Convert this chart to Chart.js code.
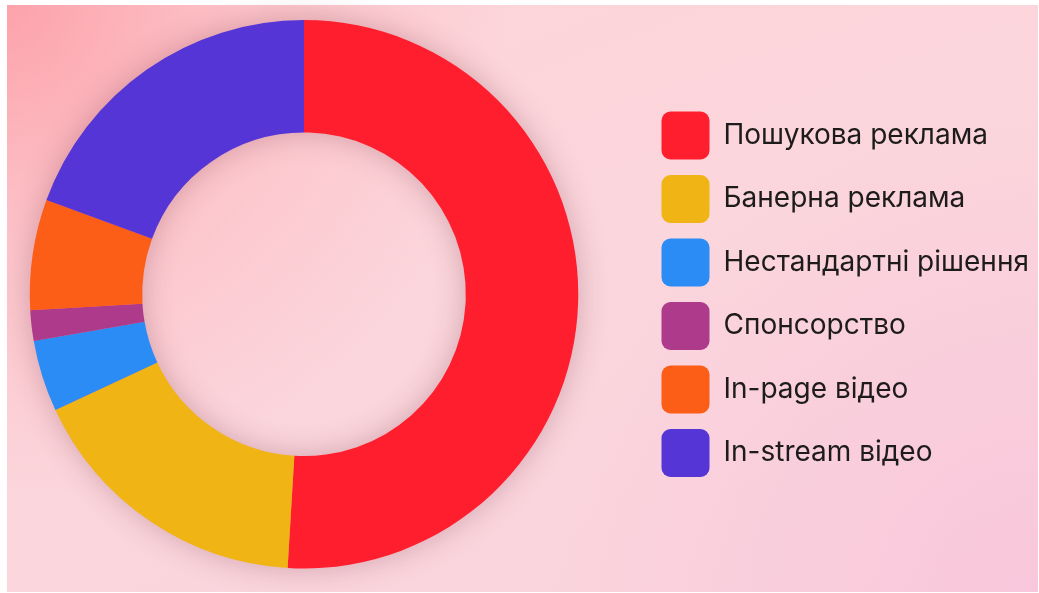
<!DOCTYPE html>
<html>
<head>
<meta charset="utf-8">
<script src="https://cdn.jsdelivr.net/npm/chart.js@4.4.1/dist/chart.umd.min.js"></script>
<style>
  html, body { margin: 0; padding: 0; background: #ffffff; overflow: hidden; }
  #wrap {
    position: absolute; left: 0; top: 0; width: 1039px; height: 593px; overflow: hidden;
  }
  #bg {
    position: absolute; left: 7px; top: 5px; width: 1031px; height: 587px;
    background:
      radial-gradient(circle at 0% 0%, rgba(253, 150, 160, 0.8) 0%, rgba(253, 170, 178, 0.4) 20%, rgba(253, 200, 206, 0) 42%),
      radial-gradient(circle at 100% 100%, rgba(248, 196, 218, 0.8) 0%, rgba(248, 200, 220, 0) 42%),
      linear-gradient(160deg, #fdd4d8 0%, #fbd6dc 50%, #fad3de 100%);
  }
  /* canvas shifted left so the ring centre and the legend sit where they do in the source */
  canvas { position: absolute; left: -38px; top: 0; }
</style>
</head>
<body>
<div id="wrap">
  <div id="bg"></div>
  <canvas id="donut" width="1078" height="593"></canvas>
</div>
<script>
// chart values (share of budget)
const categories = [
  "Пошукова реклама",
  "Банерна реклама",
  "Нестандартні рішення",
  "Спонсорство",
  "In-page відео",
  "In-stream відео"
];
const shares = [50.9, 17.1, 4.2, 1.8, 6.5, 19.4];
const colors = ["#ff1e2e", "#f0b415", "#2b8cf6", "#ad3a8a", "#fc5d17", "#5535d6"];

const LEGEND_WIDTH = 394;

// give the legend a fixed width so the ring area ends where it should
const fixedLegend = {
  id: "fixedLegend",
  beforeLayout(chart) {
    const lg = chart.legend;
    if (!lg || lg._fixedFit) return;
    const fit = lg.fit;
    lg.fit = function () {
      fit.call(this);
      this.width = LEGEND_WIDTH;
    };
    lg._fixedFit = true;
  }
};

// soft halo under the whole ring, drawn once so slices don't shade each other
const ringShadow = {
  id: "ringShadow",
  beforeDatasetsDraw(chart) {
    const arc = chart.getDatasetMeta(0).data[0];
    if (!arc) return;
    const { x, y, innerRadius, outerRadius } = arc.getProps(["x", "y", "innerRadius", "outerRadius"], true);
    const ctx = chart.ctx;
    ctx.save();
    ctx.shadowColor = "rgba(110, 40, 60, 0.3)";
    ctx.shadowBlur = 30;
    ctx.fillStyle = "#e87a8a";
    ctx.beginPath();
    ctx.arc(x, y, outerRadius - 1, 0, Math.PI * 2);
    ctx.arc(x, y, innerRadius + 1, 0, Math.PI * 2, true);
    ctx.fill();
    ctx.restore();
  }
};

new Chart(document.getElementById("donut"), {
  type: "doughnut",
  data: {
    labels: categories,
    datasets: [{
      data: shares,
      backgroundColor: colors,
      borderWidth: 0,
      hoverOffset: 0
    }]
  },
  options: {
    responsive: false,
    animation: false,
    events: [],
    cutout: "59%",
    layout: {
      padding: { left: 0, right: 0, top: 20, bottom: 24.5 }
    },
    plugins: {
      tooltip: { enabled: false },
      legend: {
        position: "right",
        align: "center",
        labels: {
          boxWidth: 48,
          boxHeight: 48,
          padding: 15.5,
          useBorderRadius: true,
          borderRadius: 9,
          color: "#1d1b1c",
          font: { family: "Inter", size: 28, weight: "400" }
        }
      }
    }
  },
  plugins: [fixedLegend, ringShadow]
});
</script>
</body>
</html>
